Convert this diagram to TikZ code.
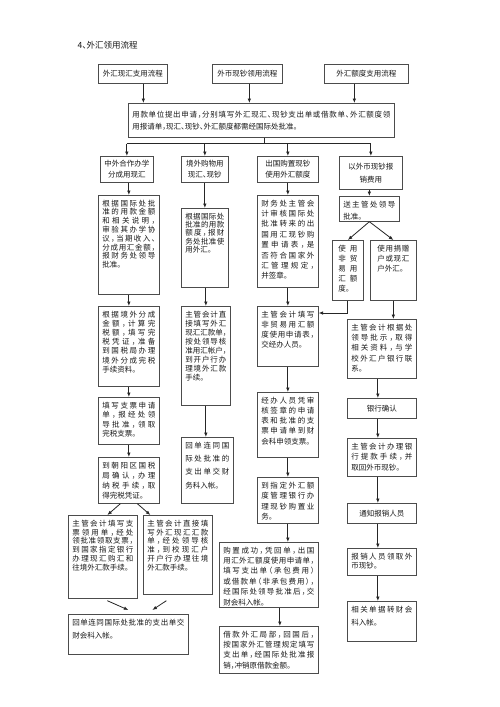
\documentclass[tikz,border=0pt]{standalone}
\usepackage{fontspec}
\setmainfont{Noto Sans CJK SC}[RawFeature=+halt]
\usetikzlibrary{arrows.meta,calc}
\XeTeXinterchartokenstate=1
\chardef\cjkcls=200
\makeatletter
\count@="3000
\loop\ifnum\count@<"A000\relax \XeTeXcharclass\count@=\cjkcls \advance\count@ by 1\relax\repeat
\count@="FF00
\loop\ifnum\count@<"FFF0\relax \XeTeXcharclass\count@=\cjkcls \advance\count@ by 1\relax\repeat
\makeatother
\XeTeXinterchartoks\cjkcls\cjkcls={\hskip0pt plus 1pt\relax}
\hbadness=10000 \hfuzz=6pt
\newcommand\Ju[1]{\hbox to\linewidth{#1}}
\newcommand\Le[1]{\hbox{#1}}
\tikzset{
  box/.style={draw=black!70, line width=0.7pt, inner xsep=4pt, inner ysep=4.5pt,
    font=\fontsize{7.5}{9}\selectfont, text=black!90},
  cbox/.style={box, align=center, inner sep=1pt},
  arr/.style={draw=black!85, line width=0.8pt, -{Latex[length=4.5pt,width=3.6pt]}},
  ln/.style={draw=black!85, line width=0.8pt}
}
\newcommand\bx[7][9]{%
  \node[box, anchor=north west, minimum width={(#5-#3)*1pt}, minimum height={(#6-#4)*1pt}] (#2) at (#3,#4)
   {\parbox[c][\dimexpr#6pt-#4pt-9pt\relax][t]{\dimexpr#5pt-#3pt-8pt\relax}{\baselineskip=#1pt #7}};}
\newcommand\cbx[7][11]{%
  \node[cbox, anchor=north west, minimum width={(#5-#3)*1pt}, minimum height={(#6-#4)*1pt},
    font=\fontsize{7.5}{#1}\selectfont] (#2) at (#3,#4) {#7};}
\begin{document}
\begin{tikzpicture}[x=1pt,y=-1pt]
\fill[white] (0,0) rectangle (500,707);
\useasboundingbox (0,0) rectangle (500,707);
\node[anchor=west, font=\fontsize{8.5}{10}\selectfont, text=black!90] (title) at (74,45) {4、外汇领用流程};

\cbx{t1}{98}{64}{167}{83}{外汇现汇支用流程}
\cbx{t2}{212}{64}{282}{83}{外币现钞领用流程}
\cbx{t3}{324}{64}{408}{83}{外汇额度支用流程}

\node[box, anchor=north west, minimum width=266pt, minimum height=34pt] (main) at (128,103)
  {\parbox{258pt}{\baselineskip=12pt \Ju{用款单位提出申请，分别填写外汇现汇、现钞支出单或借款单、外汇额度领}\Le{用报请单，现汇、现钞、外汇额度都需经国际处批准。}}};

\cbx{a}{100}{156}{153}{182}{中外合作办学\\分成用现汇}
\cbx{b}{181}{156}{228}{182}{境外购物用\\现汇、现钞}
\cbx{c}{257}{156}{318}{182}{出国购置现钞\\使用外汇额度}
\cbx[13]{d}{339}{156}{402}{189}{以外币现钞报\\销费用}

\bx[8.8]{a2}{98}{195}{159}{294}{\Ju{根据国际处批}\Ju{准的用款金额}\Ju{和相关说明，}\Ju{审验其办学协}\Ju{议，当期收入、}\Ju{分成用汇金额，}\Ju{报财务处领导}\Le{批准。}}
\bx[8.4]{b2}{181}{208}{228}{287}{\Ju{根据国际处}\Ju{批准的用款}\Ju{额度，报财}\Ju{务处批准使}\Le{用外汇。}}
\bx[10.4]{c2}{257}{195}{318}{287}{\Ju{财务处主管会}\Ju{计审核国际处}\Ju{批准转来的出}\Ju{国用汇现钞购}\Ju{置申请表，是}\Ju{否符合国家外}\Ju{汇管理规定，}\Le{并签章。}}
\bx[12.5]{d2}{339}{196}{399}{221}{\Ju{送主管处领导}\Le{批准。}}
\bx[10]{d3a}{332}{240}{363}{300}{\Ju{\kern2pt 使用\kern2pt}\Ju{\kern2pt 非贸\kern2pt}\Ju{\kern2pt 易用\kern2pt}\Ju{\kern2pt 汇额\kern2pt}\Le{\kern2pt 度。}}
\bx[10]{d3b}{370}{240}{416}{300}{\Ju{\kern3pt 使用捐赠\kern3pt}\Ju{\kern3pt 户或现汇\kern3pt}\Le{\kern3pt 户外汇。}}

\bx[9.2]{a3}{98}{306}{159}{386}{\Ju{根据境外分成}\Ju{金额，计算完}\Ju{税额，填写完}\Ju{税凭证，准备}\Ju{到国税局办理}\Ju{境外分成完税}\Le{手续资料。}}
\bx[9]{b3}{181}{306}{230}{405}{\Ju{主管会计直}\Ju{接填写外汇}\Ju{现汇汇款单，}\Ju{按处领导核}\Ju{准用汇帐户，}\Ju{到开户行办}\Ju{理境外汇款}\Le{手续。}}
\bx[10]{c3}{257}{306}{318}{366}{\Ju{主管会计填写}\Ju{非贸易用汇额}\Ju{度使用申请表，}\Le{交经办人员。}}
\bx[10.4]{d4}{347}{319}{416}{378}{\Ju{主管会计根据处}\Ju{领导批示，取得}\Ju{相关资料，与学}\Ju{校外汇户银行联}\Le{系。}}

\bx[9.5]{a4}{98}{397}{159}{444}{\Ju{填写支票申请}\Ju{单，报经处领}\Ju{导批准，领取}\Le{完税支票。}}
\bx[13.3]{b4}{181}{437}{233}{503}{\Ju{回单连同国}\Ju{际处批准的}\Ju{支出单交财}\Le{务科入帐。}}
\bx[10.2]{c4}{257}{392}{318}{457}{\Ju{经办人员凭审}\Ju{核签章的申请}\Ju{表和批准的支}\Ju{票申请单到财}\Le{会科申领支票。}}
\cbx{d5}{347}{398}{416}{418}{银行确认}
\bx[10.5]{d6}{347}{438}{416}{476}{\Ju{主管会计办理银}\Ju{行提款手续，并}\Le{取回外币现钞。}}
\bx[10]{a5}{98}{457}{159}{503}{\Ju{到朝阳区国税}\Ju{局确认，办理}\Ju{纳税手续，取}\Le{得完税凭证。}}
\bx[10.5]{c5}{257}{477}{318}{523}{\Ju{到指定外汇额}\Ju{度管理银行办}\Ju{理现钞购置业}\Le{务。}}
\cbx{d7}{347}{503}{416}{523}{通知报销人员}
\bx[8.9]{a6a}{68}{515}{137}{598}{\Ju{主管会计填写支}\Ju{票领用单，经处}\Ju{领批准领取支票，}\Ju{到国家指定银行}\Ju{办理现汇购汇和}\Le{往境外汇款手续。}}
\bx[8.9]{a6b}{143}{515}{212}{594}{\Ju{主管会计直接填}\Ju{写外汇现汇汇款}\Ju{单，经处领导核}\Ju{准，到校现汇户}\Ju{开户行办理往境}\Le{外汇款手续。}}
\bx[10.4]{c6}{219}{542}{318}{607}{\Ju{购置成功，凭回单，出国}\Ju{用汇外汇额度使用申请单，}\Ju{填写支出单（承包费用）}\Ju{或借款单（非承包费用），}\Ju{经国际处领导批准后，交}\Le{财会科入帐。}}
\bx[9.6]{d8}{347}{548}{416}{575}{\Ju{报销人员领取外}\Le{币现钞。}}
\bx[13]{d9}{347}{601}{416}{641}{\Ju{相关单据转财会}\Le{科入帐。}}
\bx[13]{a7}{68}{614}{188}{654}{\Ju{回单连同国际处批准的支出单交}\Le{财会科入帐。}}
\bx[10.3]{c7}{219}{626}{318}{673}{\Ju{借款外汇局部，回国后，}\Ju{按国家外汇管理规定填写}\Ju{支出单，经国际处批准报}\Le{销，冲销原借款金额。}}

% connectors
\draw[arr] ([xshift=10.5pt]t1.south) -- ([xshift=10.5pt]t1.south |- main.north);
\draw[arr] ([xshift=2pt]t2.south) -- ([xshift=2pt]t2.south |- main.north);
\draw[arr] ([xshift=-12pt]t3.south) -- ([xshift=-12pt]t3.south |- main.north);
\draw[ln] ([xshift=3pt]main.south) -- ++(0,6) coordinate (br);
\draw[ln] (a.north |- br) -- (d.north |- br);
\foreach \n in {a,b,c,d} \draw[arr] (\n.north |- br) -- (\n.north);
\draw[arr] (a2.north |- a.south) -- (a2.north);
\draw[arr] (b2.north |- b.south) -- (b2.north);
\draw[arr] (c2.north |- c.south) -- (c2.north);
\draw[arr] (d2.north |- d.south) -- (d2.north);
\draw[arr] (d2.south) -- (d3a.north);
\draw[arr] (d2.south) -- (d3b.north);
\draw[arr] (d3a.south) |- ([yshift=-7pt]c3.north east);
\draw[arr] (d3b.south) -- (d3b.south |- d4.north);
\draw[arr] (a2.south) -- (a3.north);
\draw[arr] (b3.north |- b2.south) -- (b3.north);
\draw[arr] (c2.south) -- (c3.north);
\draw[arr] (a3.south) -- (a4.north);
\draw[arr] (b3.south) -- (b3.south |- b4.north);
\draw[arr] (c3.south) -- (c4.north);
\foreach \u/\v in {d4/d5,d5/d6,d6/d7,d7/d8,d8/d9}
  \draw[arr] ([xshift=-4pt]\u.south) -- ([xshift=-4pt]\v.north);
\draw[arr] (a4.south) -- (a5.north);
\draw[arr] (c4.south) -- (c5.north);
\draw[arr] (c5.south) -- (c5.south |- c6.north);
\draw[arr] ([xshift=11pt]c6.south) -- ([xshift=11pt]c6.south |- c7.north);
\draw[arr] ([xshift=-8.5pt]a5.south) -- ([xshift=4.5pt]a6a.north);
\draw[arr] ([xshift=8.5pt]a5.south) -- ([xshift=-27.5pt]a6b.north);
\draw[arr] ([shift={(4.5pt,-2pt)}]a6a.south) -- ([shift={(0pt,4pt)}]a7.north);
\draw[arr] ([shift={(-11.5pt,-6pt)}]a6b.south) -- ([shift={(24pt,4pt)}]a7.north);
\end{tikzpicture}
\end{document}
